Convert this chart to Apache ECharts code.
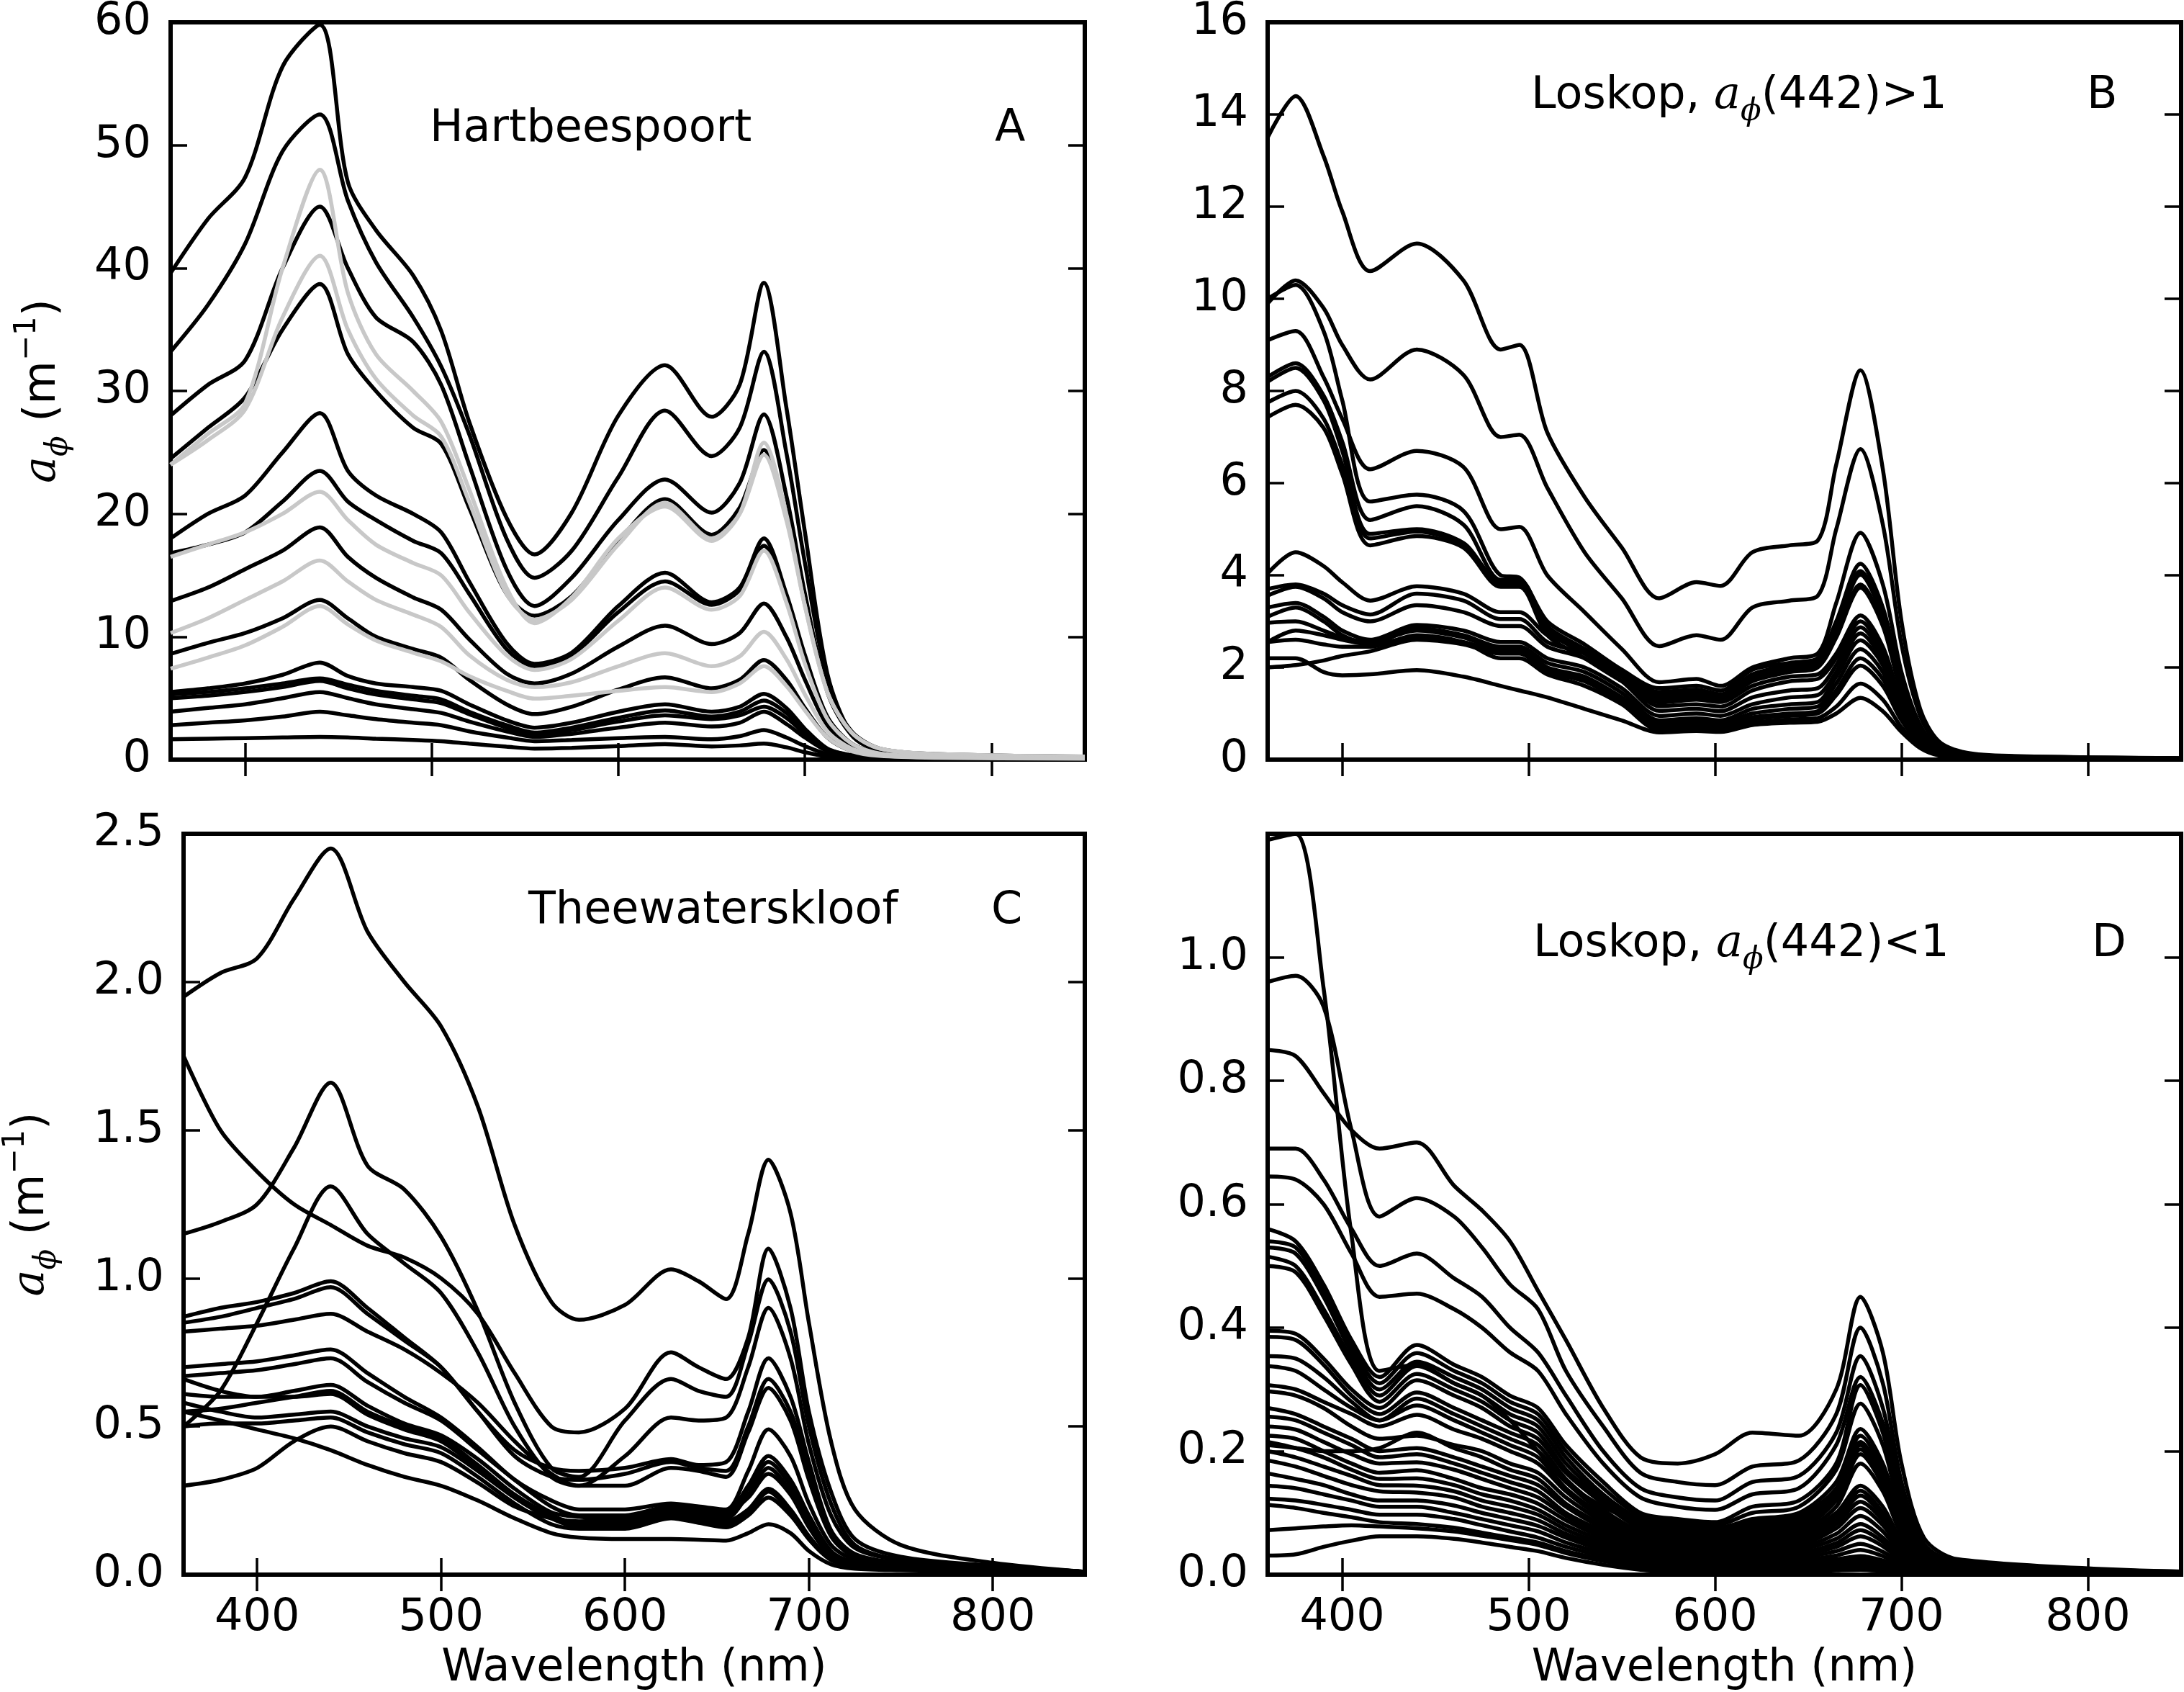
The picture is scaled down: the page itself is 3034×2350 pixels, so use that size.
<!DOCTYPE html>
<html><head><meta charset="utf-8">
<script src="https://cdn.jsdelivr.net/npm/echarts@6/dist/echarts.min.js"></script>
<style>html,body{margin:0;padding:0;background:#fff}#c{width:3034px;height:2350px}</style>
</head><body><div id="c"></div>
<script>
// ---------- Panel A : Hartbeespoort ----------
const wlA = [360, 380, 400, 420, 440, 455, 470, 490, 505, 520, 540, 555, 575, 600, 625, 650, 665, 678, 690, 700, 712, 725, 740, 770, 850];
const hA01 = [39.6, 44, 47.4, 56.4, 59.8, 47, 43.1, 39.4, 34.9, 27.5, 19.7, 16.7, 20.1, 28, 32.1, 27.9, 30.5, 38.8, 28.7, 18.5, 7, 2.1, 0.7, 0.3, 0.15];
const hA02 = [33.2, 37, 42, 49.5, 52.5, 45.5, 40.5, 36, 32, 26.5, 18, 14.8, 17, 23, 28.4, 24.7, 27, 33.2, 25, 16, 6.5, 2, 0.7, 0.3, 0.15];
const hA03 = [28, 30.5, 32.5, 40, 45, 40, 36, 34, 30.5, 24, 15.5, 12.5, 14.8, 19.5, 22.8, 20.1, 22.5, 28.1, 21.5, 13.5, 5.5, 2, 0.8, 0.4, 0.2];
const hA04 = [24.5, 27, 29.5, 35, 38.7, 33, 30, 27, 25.7, 20.5, 13.5, 11.7, 13.3, 17.8, 21.2, 18.3, 20.5, 25.2, 20, 13, 5.8, 2.3, 0.9, 0.45, 0.25];
const hA05 = [18, 20, 21.5, 25, 28.2, 23.5, 21.5, 20, 18.5, 14.5, 9.5, 7.8, 8.7, 12.5, 15.2, 12.8, 14, 18, 13.5, 8.5, 3.5, 1.3, 0.5, 0.25, 0.1];
const hA06 = [16.8, 17.5, 18.5, 21, 23.5, 21, 19.5, 17.8, 16.8, 13.5, 9, 7.6, 8.5, 12, 14.5, 12.6, 13.8, 17.4, 13, 8, 3.4, 1.3, 0.5, 0.25, 0.1];
const hA07 = [12.9, 14, 15.5, 17, 18.9, 16.5, 14.8, 13.2, 12.2, 9.8, 7, 6.2, 7, 9.2, 10.9, 9.4, 10.3, 12.7, 10, 6.5, 2.8, 1.1, 0.45, 0.2, 0.1];
const hA08 = [8.6, 9.5, 10.3, 11.5, 13, 11.5, 10, 9, 8.3, 6.5, 4.5, 3.7, 4.3, 5.7, 6.7, 5.8, 6.5, 8.1, 6.5, 4.2, 1.8, 0.7, 0.3, 0.15, 0.08];
const hA09 = [5.5, 5.8, 6.2, 6.9, 7.9, 6.8, 6.2, 5.9, 5.6, 4.5, 3.2, 2.6, 3.0, 3.9, 4.5, 3.9, 4.3, 5.35, 4.2, 2.5, 0.9, 0.35, 0.15, 0.08, 0.04];
const hA10 = [5.3, 5.5, 5.8, 6.2, 6.6, 6.1, 5.6, 5.2, 4.9, 3.9, 2.8, 2.2, 2.6, 3.4, 4.0, 3.5, 3.9, 4.8, 3.8, 2.3, 0.85, 0.33, 0.14, 0.07, 0.04];
const hA11 = [5.0, 5.2, 5.5, 5.9, 6.4, 5.8, 5.3, 4.9, 4.6, 3.7, 2.6, 2.0, 2.4, 3.1, 3.6, 3.3, 3.6, 4.3, 3.4, 2.1, 0.8, 0.3, 0.13, 0.07, 0.04];
const hA12 = [3.9, 4.2, 4.5, 5.0, 5.5, 5.0, 4.5, 4.1, 3.8, 3.1, 2.3, 1.85, 2.1, 2.6, 3.0, 2.7, 3.0, 3.9, 2.9, 1.8, 0.7, 0.27, 0.12, 0.06, 0.03];
const hA13 = [2.8, 3.0, 3.2, 3.5, 3.9, 3.6, 3.3, 3.0, 2.8, 2.3, 1.8, 1.5, 1.6, 1.75, 1.85, 1.65, 1.9, 2.4, 1.8, 1.1, 0.45, 0.18, 0.08, 0.05, 0.03];
const hA14 = [1.65, 1.7, 1.75, 1.8, 1.85, 1.8, 1.7, 1.6, 1.5, 1.3, 1.05, 0.9, 0.95, 1.1, 1.26, 1.07, 1.15, 1.3, 1.0, 0.6, 0.25, 0.1, 0.05, 0.03, 0.02];
// grey curves
const hA15 = [24, 26.5, 29, 40, 48, 38, 33, 30, 27.5, 22, 14, 11.1, 13.2, 18, 20.6, 17.8, 20, 25.8, 20, 12.5, 5.5, 2.2, 0.9, 0.45, 0.25];
const hA16 = [24, 26, 28.5, 36, 41, 35, 31, 28, 26.3, 21, 13.5, 11.4, 13, 17.5, 20.9, 18, 20, 24.8, 19.5, 12.5, 5.5, 2.2, 0.9, 0.45, 0.25];
const hA17 = [16.5, 17.5, 18.5, 20, 21.8, 19.5, 17.5, 16, 15, 12, 8.5, 7.3, 8.2, 11.3, 14, 12.2, 13.3, 17, 12.8, 7.8, 3.3, 1.3, 0.5, 0.25, 0.1];
const hA18 = [10.3, 11.5, 13, 14.5, 16.2, 14.5, 13, 11.8, 10.8, 8.5, 6.5, 5.9, 6.3, 7.6, 8.66, 7.6, 8.4, 10.4, 8.2, 5.3, 2.3, 0.9, 0.4, 0.2, 0.1];
const hA19 = [7.4, 8.3, 9.3, 10.8, 12.5, 11, 9.7, 8.7, 8, 6.8, 5.6, 4.96, 5.2, 5.6, 5.9, 5.5, 6.2, 7.6, 6, 4, 1.8, 0.7, 0.3, 0.15, 0.08];

// ---------- Panel B : Loskop > 1 ----------
const wlB = [360, 375, 390, 400, 415, 440, 465, 485, 495, 510, 530, 550, 570, 590, 603, 620, 640, 655, 665, 678, 690, 700, 710, 720, 735, 760, 850];
const lB01 = [13.5, 14.4, 13.1, 11.9, 10.6, 11.2, 10.4, 8.9, 9.0, 7.1, 5.7, 4.6, 3.5, 3.85, 3.77, 4.5, 4.65, 4.75, 6.4, 8.45, 6.3, 3.0, 1.1, 0.4, 0.15, 0.08, 0.03];
const lB02 = [9.9, 10.4, 9.8, 9.0, 8.25, 8.9, 8.35, 7.0, 7.05, 5.9, 4.5, 3.5, 2.46, 2.7, 2.6, 3.3, 3.45, 3.55, 5.0, 6.74, 5.1, 2.5, 0.95, 0.33, 0.12, 0.07, 0.03];
const lB03 = [9.1, 9.3, 8.3, 7.4, 6.3, 6.7, 6.35, 5.0, 5.05, 4.0, 3.2, 2.4, 1.68, 1.75, 1.6, 2.0, 2.2, 2.3, 3.4, 4.92, 3.8, 1.9, 0.75, 0.26, 0.1, 0.05, 0.02];
const lB04 = [10.0, 10.3, 9.3, 7.8, 5.6, 5.75, 5.4, 4.0, 3.95, 3.0, 2.5, 1.95, 1.55, 1.6, 1.5, 1.95, 2.1, 2.2, 3.0, 4.25, 3.3, 1.7, 0.7, 0.22, 0.09, 0.05, 0.02];
const lB05 = [8.3, 8.6, 7.9, 6.9, 5.2, 5.5, 5.1, 3.9, 3.9, 2.9, 2.4, 1.9, 1.47, 1.52, 1.42, 1.85, 2.05, 2.15, 2.9, 4.09, 3.2, 1.65, 0.68, 0.22, 0.09, 0.05, 0.02];
const lB06 = [8.2, 8.5, 7.8, 6.7, 4.9, 5.0, 4.7, 3.85, 3.85, 2.85, 2.35, 1.85, 1.4, 1.45, 1.38, 1.8, 2.0, 2.1, 2.85, 4.01, 3.1, 1.6, 0.66, 0.21, 0.09, 0.05, 0.02];
const lB07 = [7.75, 8.0, 7.4, 6.4, 4.8, 4.95, 4.65, 3.8, 3.8, 2.8, 2.3, 1.8, 1.37, 1.42, 1.35, 1.75, 1.95, 2.05, 2.7, 3.8, 2.95, 1.5, 0.62, 0.2, 0.08, 0.04, 0.02];
const lB08 = [7.43, 7.7, 7.2, 6.2, 4.65, 4.85, 4.6, 3.75, 3.75, 2.7, 2.2, 1.7, 1.3, 1.35, 1.3, 1.7, 1.9, 2.0, 2.65, 3.73, 2.9, 1.45, 0.6, 0.19, 0.08, 0.04, 0.02];
const lB09 = [4.04, 4.5, 4.2, 3.85, 3.45, 3.76, 3.6, 3.2, 3.2, 2.7, 2.4, 1.9, 1.24, 1.3, 1.25, 1.6, 1.8, 1.85, 2.3, 3.13, 2.45, 1.25, 0.5, 0.17, 0.07, 0.04, 0.02];
const lB10 = [3.7, 3.8, 3.6, 3.35, 3.15, 3.6, 3.45, 3.05, 3.05, 2.55, 2.3, 1.8, 1.16, 1.2, 1.15, 1.5, 1.7, 1.75, 2.2, 3.0, 2.35, 1.2, 0.48, 0.16, 0.07, 0.04, 0.02];
const lB11 = [3.56, 3.75, 3.5, 3.2, 3.0, 3.35, 3.2, 2.9, 2.9, 2.45, 2.2, 1.7, 1.06, 1.1, 1.05, 1.35, 1.5, 1.55, 2.05, 2.87, 2.25, 1.15, 0.46, 0.15, 0.06, 0.03, 0.02];
const lB12 = [3.3, 3.4, 3.1, 2.8, 2.6, 2.92, 2.8, 2.55, 2.55, 2.2, 2.0, 1.55, 0.95, 1.0, 0.95, 1.2, 1.35, 1.4, 1.9, 2.74, 2.15, 1.1, 0.44, 0.14, 0.06, 0.03, 0.02];
const lB13 = [3.1, 3.3, 3.0, 2.7, 2.5, 2.85, 2.7, 2.45, 2.45, 2.1, 1.9, 1.45, 0.85, 0.9, 0.85, 1.1, 1.2, 1.25, 1.8, 2.59, 2.05, 1.05, 0.42, 0.14, 0.06, 0.03, 0.02];
const lB14 = [2.97, 3.0, 2.8, 2.65, 2.55, 2.8, 2.65, 2.4, 2.4, 2.0, 1.8, 1.35, 0.8, 0.85, 0.8, 1.0, 1.1, 1.15, 1.65, 2.4, 1.9, 1.0, 0.4, 0.13, 0.05, 0.03, 0.02];
const lB15 = [2.55, 2.8, 2.7, 2.6, 2.5, 2.66, 2.55, 2.35, 2.35, 1.95, 1.75, 1.3, 0.74, 0.78, 0.74, 0.92, 1.0, 1.05, 1.5, 2.2, 1.75, 0.9, 0.37, 0.12, 0.05, 0.03, 0.02];
const lB16 = [2.0, 2.05, 2.15, 2.25, 2.35, 2.6, 2.5, 2.3, 2.3, 1.9, 1.7, 1.25, 0.68, 0.72, 0.68, 0.87, 0.95, 1.0, 1.4, 2.04, 1.6, 0.85, 0.35, 0.12, 0.05, 0.03, 0.02];
const lB17 = [2.55, 2.6, 2.5, 2.45, 2.45, 2.7, 2.55, 2.2, 2.2, 1.85, 1.6, 1.2, 0.64, 0.68, 0.64, 0.8, 0.87, 0.9, 1.15, 1.65, 1.3, 0.7, 0.3, 0.1, 0.04, 0.03, 0.02];
const lB18 = [2.2, 2.2, 1.9, 1.83, 1.85, 1.94, 1.8, 1.6, 1.5, 1.35, 1.1, 0.85, 0.59, 0.62, 0.6, 0.75, 0.8, 0.82, 1.0, 1.34, 1.05, 0.6, 0.25, 0.09, 0.04, 0.03, 0.02];

// ---------- Panel C : Theewaterskloof ----------
const wlC = [360, 380, 400, 420, 440, 460, 480, 500, 520, 540, 560, 575, 600, 625, 640, 655, 667, 678, 690, 700, 712, 725, 750, 800, 850];
const tC01 = [1.95, 2.03, 2.08, 2.28, 2.45, 2.17, 2.0, 1.85, 1.58, 1.18, 0.92, 0.86, 0.91, 1.03, 0.99, 0.93, 1.15, 1.40, 1.22, 0.85, 0.45, 0.22, 0.1, 0.04, 0.01];
const tC02 = [1.75, 1.5, 1.36, 1.25, 1.18, 1.11, 1.07, 1.0, 0.88, 0.68, 0.5, 0.48, 0.56, 0.75, 0.7, 0.66, 0.8, 1.10, 0.9, 0.55, 0.28, 0.12, 0.06, 0.03, 0.01];
const tC03 = [1.15, 1.19, 1.25, 1.44, 1.66, 1.38, 1.30, 1.14, 0.89, 0.58, 0.36, 0.33, 0.52, 0.66, 0.62, 0.6, 0.78, 0.996, 0.82, 0.5, 0.24, 0.1, 0.05, 0.03, 0.01];
const tC04 = [0.5, 0.62, 0.85, 1.1, 1.31, 1.15, 1.05, 0.95, 0.75, 0.5, 0.33, 0.3, 0.4, 0.53, 0.52, 0.53, 0.7, 0.90, 0.73, 0.44, 0.2, 0.09, 0.05, 0.03, 0.01];
const tC05 = [0.87, 0.9, 0.92, 0.95, 0.99, 0.9, 0.8, 0.7, 0.55, 0.42, 0.36, 0.35, 0.36, 0.39, 0.37, 0.38, 0.55, 0.73, 0.6, 0.38, 0.15, 0.07, 0.04, 0.02, 0.01];
const tC06 = [0.85, 0.87, 0.9, 0.93, 0.97, 0.88, 0.79, 0.7, 0.55, 0.40, 0.33, 0.32, 0.34, 0.38, 0.36, 0.35, 0.5, 0.66, 0.55, 0.35, 0.14, 0.06, 0.04, 0.02, 0.01];
const tC07 = [0.82, 0.83, 0.84, 0.86, 0.88, 0.82, 0.76, 0.68, 0.58, 0.45, 0.34, 0.3, 0.3, 0.36, 0.35, 0.33, 0.48, 0.63, 0.52, 0.32, 0.13, 0.06, 0.04, 0.02, 0.01];
const tC08 = [0.70, 0.71, 0.72, 0.74, 0.76, 0.68, 0.6, 0.53, 0.43, 0.32, 0.25, 0.22, 0.22, 0.24, 0.23, 0.22, 0.35, 0.49, 0.4, 0.24, 0.1, 0.05, 0.03, 0.02, 0.01];
const tC09 = [0.67, 0.68, 0.69, 0.71, 0.73, 0.65, 0.58, 0.52, 0.42, 0.32, 0.23, 0.2, 0.2, 0.23, 0.22, 0.21, 0.3, 0.40, 0.32, 0.2, 0.08, 0.04, 0.03, 0.02, 0.01];
const tC10 = [0.61, 0.6, 0.6, 0.62, 0.64, 0.57, 0.51, 0.47, 0.39, 0.29, 0.21, 0.195, 0.19, 0.22, 0.21, 0.2, 0.29, 0.38, 0.3, 0.18, 0.07, 0.04, 0.03, 0.02, 0.01];
const tC11 = [0.55, 0.56, 0.58, 0.6, 0.62, 0.55, 0.5, 0.46, 0.37, 0.27, 0.2, 0.175, 0.18, 0.215, 0.2, 0.19, 0.27, 0.36, 0.28, 0.17, 0.07, 0.04, 0.03, 0.02, 0.01];
const tC12 = [0.66, 0.62, 0.6, 0.6, 0.61, 0.54, 0.49, 0.45, 0.36, 0.26, 0.19, 0.17, 0.175, 0.205, 0.19, 0.18, 0.22, 0.29, 0.22, 0.13, 0.05, 0.03, 0.02, 0.015, 0.01];
const tC13 = [0.58, 0.55, 0.53, 0.54, 0.55, 0.5, 0.46, 0.43, 0.35, 0.26, 0.19, 0.16, 0.165, 0.195, 0.18, 0.17, 0.21, 0.28, 0.21, 0.12, 0.05, 0.03, 0.02, 0.015, 0.01];
const tC14 = [0.5, 0.51, 0.51, 0.52, 0.53, 0.48, 0.44, 0.41, 0.33, 0.24, 0.17, 0.155, 0.155, 0.19, 0.175, 0.16, 0.2, 0.26, 0.2, 0.12, 0.05, 0.03, 0.02, 0.015, 0.01];
const tC15 = [0.3, 0.32, 0.36, 0.45, 0.50, 0.45, 0.41, 0.38, 0.31, 0.23, 0.19, 0.18, 0.19, 0.23, 0.22, 0.21, 0.26, 0.34, 0.27, 0.16, 0.06, 0.03, 0.02, 0.015, 0.01];
const tC16 = [0.55, 0.52, 0.49, 0.46, 0.42, 0.37, 0.33, 0.3, 0.25, 0.19, 0.14, 0.125, 0.12, 0.12, 0.118, 0.115, 0.14, 0.17, 0.14, 0.08, 0.035, 0.02, 0.015, 0.01, 0.005];

// ---------- Panel D : Loskop < 1 ----------
const wlD = [360, 375, 390, 405, 420, 440, 460, 475, 490, 505, 520, 540, 560, 580, 600, 620, 645, 665, 678, 690, 700, 712, 730, 850];
const lD01 = [1.19, 1.20, 0.95, 0.55, 0.33, 0.34, 0.31, 0.29, 0.25, 0.2, 0.15, 0.11, 0.085, 0.075, 0.07, 0.08, 0.085, 0.13, 0.21, 0.15, 0.07, 0.025, 0.012, 0.003];
const lD02 = [0.96, 0.97, 0.92, 0.72, 0.58, 0.61, 0.58, 0.53, 0.47, 0.43, 0.33, 0.24, 0.165, 0.15, 0.145, 0.175, 0.185, 0.26, 0.40, 0.31, 0.15, 0.05, 0.02, 0.005];
const lD03 = [0.85, 0.84, 0.78, 0.72, 0.69, 0.70, 0.63, 0.59, 0.54, 0.46, 0.38, 0.27, 0.19, 0.18, 0.195, 0.23, 0.225, 0.3, 0.45, 0.36, 0.18, 0.06, 0.025, 0.005];
const lD04 = [0.69, 0.69, 0.64, 0.56, 0.50, 0.52, 0.48, 0.45, 0.40, 0.36, 0.29, 0.2, 0.14, 0.125, 0.12, 0.15, 0.16, 0.23, 0.354, 0.27, 0.13, 0.045, 0.018, 0.004];
const lD05 = [0.645, 0.64, 0.6, 0.52, 0.45, 0.455, 0.43, 0.40, 0.36, 0.33, 0.26, 0.18, 0.125, 0.11, 0.105, 0.13, 0.14, 0.21, 0.32, 0.245, 0.12, 0.04, 0.016, 0.004];
const lD06 = [0.56, 0.54, 0.47, 0.38, 0.32, 0.372, 0.34, 0.32, 0.29, 0.27, 0.21, 0.15, 0.1, 0.09, 0.085, 0.11, 0.12, 0.18, 0.307, 0.23, 0.11, 0.035, 0.014, 0.003];
const lD07 = [0.54, 0.53, 0.46, 0.37, 0.31, 0.359, 0.33, 0.31, 0.28, 0.26, 0.2, 0.14, 0.095, 0.085, 0.08, 0.1, 0.11, 0.17, 0.277, 0.21, 0.1, 0.032, 0.013, 0.003];
const lD08 = [0.53, 0.52, 0.45, 0.36, 0.3, 0.345, 0.32, 0.3, 0.27, 0.25, 0.19, 0.13, 0.09, 0.08, 0.075, 0.09, 0.1, 0.15, 0.236, 0.18, 0.09, 0.03, 0.012, 0.003];
const lD09 = [0.515, 0.5, 0.43, 0.35, 0.29, 0.338, 0.31, 0.29, 0.26, 0.24, 0.18, 0.125, 0.085, 0.075, 0.07, 0.085, 0.095, 0.14, 0.225, 0.17, 0.085, 0.028, 0.011, 0.003];
const lD10 = [0.50, 0.49, 0.42, 0.34, 0.28, 0.325, 0.3, 0.28, 0.25, 0.23, 0.17, 0.12, 0.08, 0.07, 0.065, 0.08, 0.09, 0.135, 0.215, 0.16, 0.08, 0.026, 0.01, 0.003];
const lD11 = [0.395, 0.39, 0.35, 0.3, 0.27, 0.315, 0.29, 0.27, 0.24, 0.22, 0.165, 0.115, 0.075, 0.065, 0.06, 0.075, 0.08, 0.125, 0.203, 0.15, 0.075, 0.025, 0.01, 0.002];
const lD12 = [0.385, 0.38, 0.34, 0.29, 0.26, 0.295, 0.27, 0.25, 0.23, 0.21, 0.155, 0.105, 0.07, 0.06, 0.055, 0.07, 0.075, 0.12, 0.195, 0.145, 0.07, 0.024, 0.01, 0.002];
const lD13 = [0.354, 0.35, 0.32, 0.28, 0.25, 0.285, 0.26, 0.24, 0.22, 0.2, 0.15, 0.1, 0.065, 0.055, 0.05, 0.065, 0.07, 0.11, 0.18, 0.135, 0.065, 0.022, 0.009, 0.002];
const lD14 = [0.338, 0.33, 0.3, 0.27, 0.25, 0.274, 0.25, 0.23, 0.21, 0.19, 0.14, 0.095, 0.06, 0.05, 0.048, 0.06, 0.065, 0.1, 0.144, 0.11, 0.055, 0.018, 0.008, 0.002];
const lD15 = [0.307, 0.3, 0.28, 0.26, 0.24, 0.259, 0.235, 0.22, 0.2, 0.18, 0.135, 0.09, 0.058, 0.048, 0.045, 0.056, 0.06, 0.095, 0.136, 0.1, 0.05, 0.017, 0.007, 0.002];
const lD16 = [0.297, 0.29, 0.27, 0.24, 0.22, 0.225, 0.21, 0.2, 0.18, 0.165, 0.125, 0.085, 0.055, 0.045, 0.042, 0.052, 0.056, 0.088, 0.128, 0.095, 0.048, 0.016, 0.007, 0.002];
const lD17 = [0.21, 0.205, 0.2, 0.2, 0.205, 0.23, 0.205, 0.19, 0.17, 0.155, 0.115, 0.08, 0.052, 0.043, 0.04, 0.048, 0.052, 0.082, 0.118, 0.088, 0.044, 0.015, 0.006, 0.002];
const lD18 = [0.27, 0.26, 0.24, 0.22, 0.2, 0.205, 0.19, 0.175, 0.16, 0.145, 0.11, 0.075, 0.048, 0.04, 0.037, 0.044, 0.048, 0.075, 0.108, 0.08, 0.04, 0.014, 0.006, 0.002];
const lD19 = [0.256, 0.25, 0.23, 0.21, 0.19, 0.195, 0.18, 0.165, 0.15, 0.135, 0.1, 0.07, 0.045, 0.037, 0.034, 0.04, 0.044, 0.066, 0.095, 0.07, 0.035, 0.012, 0.005, 0.001];
const lD20 = [0.24, 0.235, 0.215, 0.195, 0.18, 0.182, 0.17, 0.155, 0.14, 0.125, 0.095, 0.065, 0.042, 0.034, 0.031, 0.036, 0.04, 0.058, 0.082, 0.06, 0.03, 0.011, 0.005, 0.001];
const lD21 = [0.225, 0.22, 0.2, 0.18, 0.165, 0.169, 0.155, 0.14, 0.13, 0.115, 0.088, 0.06, 0.038, 0.031, 0.028, 0.032, 0.035, 0.051, 0.072, 0.053, 0.027, 0.01, 0.004, 0.001];
const lD22 = [0.215, 0.205, 0.19, 0.17, 0.155, 0.156, 0.145, 0.13, 0.12, 0.105, 0.08, 0.055, 0.035, 0.028, 0.025, 0.028, 0.031, 0.045, 0.062, 0.046, 0.023, 0.009, 0.004, 0.001];
const lD23 = [0.2, 0.19, 0.175, 0.16, 0.145, 0.144, 0.135, 0.12, 0.11, 0.097, 0.073, 0.05, 0.032, 0.025, 0.022, 0.025, 0.027, 0.038, 0.05, 0.037, 0.019, 0.007, 0.003, 0.001];
const lD24 = [0.185, 0.175, 0.16, 0.145, 0.135, 0.133, 0.125, 0.11, 0.1, 0.088, 0.066, 0.045, 0.028, 0.022, 0.019, 0.021, 0.023, 0.031, 0.04, 0.03, 0.015, 0.006, 0.003, 0.001];
const lD25 = [0.164, 0.155, 0.145, 0.13, 0.12, 0.12, 0.112, 0.1, 0.09, 0.079, 0.06, 0.04, 0.025, 0.019, 0.016, 0.018, 0.019, 0.025, 0.03, 0.023, 0.012, 0.005, 0.002, 0.001];
const lD26 = [0.144, 0.14, 0.13, 0.12, 0.11, 0.11, 0.1, 0.09, 0.08, 0.07, 0.052, 0.035, 0.022, 0.016, 0.013, 0.015, 0.016, 0.021, 0.025, 0.019, 0.01, 0.004, 0.002, 0.001];
const lD27 = [0.123, 0.12, 0.113, 0.105, 0.097, 0.097, 0.09, 0.08, 0.07, 0.06, 0.045, 0.03, 0.018, 0.013, 0.01, 0.012, 0.013, 0.017, 0.02, 0.015, 0.008, 0.003, 0.002, 0.001];
const lD28 = [0.113, 0.108, 0.1, 0.093, 0.085, 0.082, 0.076, 0.068, 0.06, 0.052, 0.038, 0.025, 0.014, 0.01, 0.008, 0.009, 0.01, 0.013, 0.015, 0.011, 0.006, 0.002, 0.001, 0.001];
const lD29 = [0.072, 0.075, 0.078, 0.08, 0.078, 0.075, 0.07, 0.063, 0.056, 0.048, 0.035, 0.022, 0.012, 0.008, 0.006, 0.007, 0.008, 0.01, 0.012, 0.009, 0.005, 0.002, 0.001, 0.001];
const lD30 = [0.031, 0.033, 0.045, 0.055, 0.062, 0.062, 0.058, 0.052, 0.045, 0.038, 0.027, 0.016, 0.008, 0.005, 0.004, 0.005, 0.005, 0.007, 0.008, 0.006, 0.004, 0.002, 0.001, 0.0];

// ---------- ticks & text ----------
const xTicks = [400, 500, 600, 700, 800];
const panelTitles = ['Hartbeespoort', 'Loskop, {a|a}{s|ϕ}(442)>1', 'Theewaterskloof', 'Loskop, {a|a}{s|ϕ}(442)<1'];
const panelLetters = ['A', 'B', 'C', 'D'];
const xLabel = 'Wavelength (nm)';
const yLabel = '{a|a}{s|ϕ}{n| (m}{p|−1}{n|)}';

const BLACK = '#000000', GREY = '#c8c8c8';
const FONT = 'DejaVu Sans';
const FS = 62;
const mathRich = {
  a: {fontFamily: 'DejaVu Serif', fontStyle: 'italic', fontSize: 62, lineHeight: 86, verticalAlign: 'middle', color: '#000'},
  s: {fontFamily: 'DejaVu Serif', fontStyle: 'italic', fontSize: 42, lineHeight: 42, verticalAlign: 'bottom', color: '#000'},
  n: {fontFamily: FONT, fontSize: FS, lineHeight: 86, verticalAlign: 'middle', color: '#000'},
  p: {fontFamily: FONT, fontSize: 42, lineHeight: 42, verticalAlign: 'top', color: '#000'}
};

const panels = [
  {wl: wlA, black: [hA01, hA02, hA03, hA04, hA05, hA06, hA07, hA08, hA09, hA10, hA11, hA12, hA13, hA14], grey: [hA15, hA16, hA17, hA18, hA19]},
  {wl: wlB, black: [lB01, lB02, lB03, lB04, lB05, lB06, lB07, lB08, lB09, lB10, lB11, lB12, lB13, lB14, lB15, lB16, lB17, lB18], grey: []},
  {wl: wlC, black: [tC01, tC02, tC03, tC04, tC05, tC06, tC07, tC08, tC09, tC10, tC11, tC12, tC13, tC14, tC15, tC16], grey: []},
  {wl: wlD, black: [lD01, lD02, lD03, lD04, lD05, lD06, lD07, lD08, lD09, lD10, lD11, lD12, lD13, lD14, lD15, lD16, lD17, lD18, lD19, lD20, lD21, lD22, lD23, lD24, lD25, lD26, lD27, lD28, lD29, lD30], grey: []}
];
const yRanges = [{max: 60, interval: 10, dec: 0}, {max: 16, interval: 2, dec: 0}, {max: 2.5, interval: 0.5, dec: 1}, {max: 1.2, interval: 0.2, dec: 1, hideMax: true}];

const grids = [
  {left: 237, top: 25, width: 1270, height: 1030},
  {left: 1761, top: 25, width: 1269, height: 1030},
  {left: 237, top: 1158, width: 1270, height: 1034},
  {left: 1761, top: 1158, width: 1269, height: 1034}
].map(g => Object.assign(g, {show: true, borderColor: '#000', borderWidth: 6, backgroundColor: 'transparent', containLabel: false}));

const tickStyle = {show: true, inside: true, length: 23, lineStyle: {color: '#000', width: 3.5}};
const xAxes = [], yAxes = [], series = [];
for (let g = 0; g < 4; g++) {
  const showX = g >= 2;
  xAxes.push({gridIndex: g, type: 'value', min: 360, max: 850, position: 'bottom',
    axisLine: {show: false}, splitLine: {show: false},
    axisTick: Object.assign({customValues: xTicks}, tickStyle),
    axisLabel: {show: showX, customValues: xTicks, fontSize: FS, fontFamily: FONT, color: '#000', margin: 30},
    name: showX ? xLabel : '', nameLocation: 'middle', nameGap: 100,
    nameTextStyle: {fontSize: FS, fontFamily: FONT, color: '#000'}});
  xAxes.push({gridIndex: g, type: 'value', min: 360, max: 850, position: 'top',
    axisLine: {show: false}, splitLine: {show: false},
    axisTick: Object.assign({customValues: xTicks}, tickStyle), axisLabel: {show: false}});
  const yr = yRanges[g];
  const showName = (g === 0 || g === 2);
  yAxes.push({gridIndex: g, type: 'value', min: 0, max: yr.max, interval: yr.interval, position: 'left',
    axisLine: {show: false}, splitLine: {show: false}, axisTick: tickStyle,
    axisLabel: {fontSize: FS, fontFamily: FONT, color: '#000', margin: 27,
      formatter: v => (yr.hideMax && v > yr.max - 1e-9) ? '' : v.toFixed(yr.dec)},
    name: showName ? yLabel : '', nameLocation: 'middle', nameRotate: 90, nameGap: g === 0 ? 134 : 168,
    nameTextStyle: {rich: mathRich}});
  yAxes.push({gridIndex: g, type: 'value', min: 0, max: yr.max, interval: yr.interval, position: 'right',
    axisLine: {show: false}, splitLine: {show: false}, axisTick: tickStyle, axisLabel: {show: false}});
  const p = panels[g];
  const add = (vals, color) => series.push({type: 'line', xAxisIndex: 2 * g, yAxisIndex: 2 * g,
    data: p.wl.map((w, i) => [w, vals[i]]), showSymbol: false, symbol: 'none', smooth: 0.3,
    lineStyle: {color: color, width: 5.5}, silent: true, animation: false, clip: true});
  p.black.forEach(v => add(v, BLACK));
  p.grey.forEach(v => add(v, GREY));
}

const titlePos = [{x: 597, y: 180}, {x: 2127, y: 134}, {x: 734, y: 1266}, {x: 2130, y: 1312}];
const letterPos = [{x: 1382, y: 180}, {x: 2899, y: 134}, {x: 1377, y: 1266}, {x: 2906, y: 1312}];
const graphic = [];
for (let g = 0; g < 4; g++) {
  graphic.push({type: 'text', x: titlePos[g].x, y: titlePos[g].y, z: 10,
    style: {text: panelTitles[g], fontFamily: FONT, fontSize: FS, fill: '#000', verticalAlign: 'middle', align: 'left',
      rich: {a: Object.assign({}, mathRich.a, {fill: '#000'}), s: Object.assign({}, mathRich.s, {fill: '#000'})}}});
  graphic.push({type: 'text', x: letterPos[g].x, y: letterPos[g].y, z: 10,
    style: {text: panelLetters[g], fontFamily: FONT, fontSize: FS, fill: '#000', verticalAlign: 'middle', align: 'left'}});
}

const chart = echarts.init(document.getElementById('c'), null, {renderer: 'canvas', width: 3034, height: 2350});
chart.setOption({
  backgroundColor: '#ffffff', animation: false,
  grid: grids, xAxis: xAxes, yAxis: yAxes, series: series, graphic: graphic
});
</script></body></html>
